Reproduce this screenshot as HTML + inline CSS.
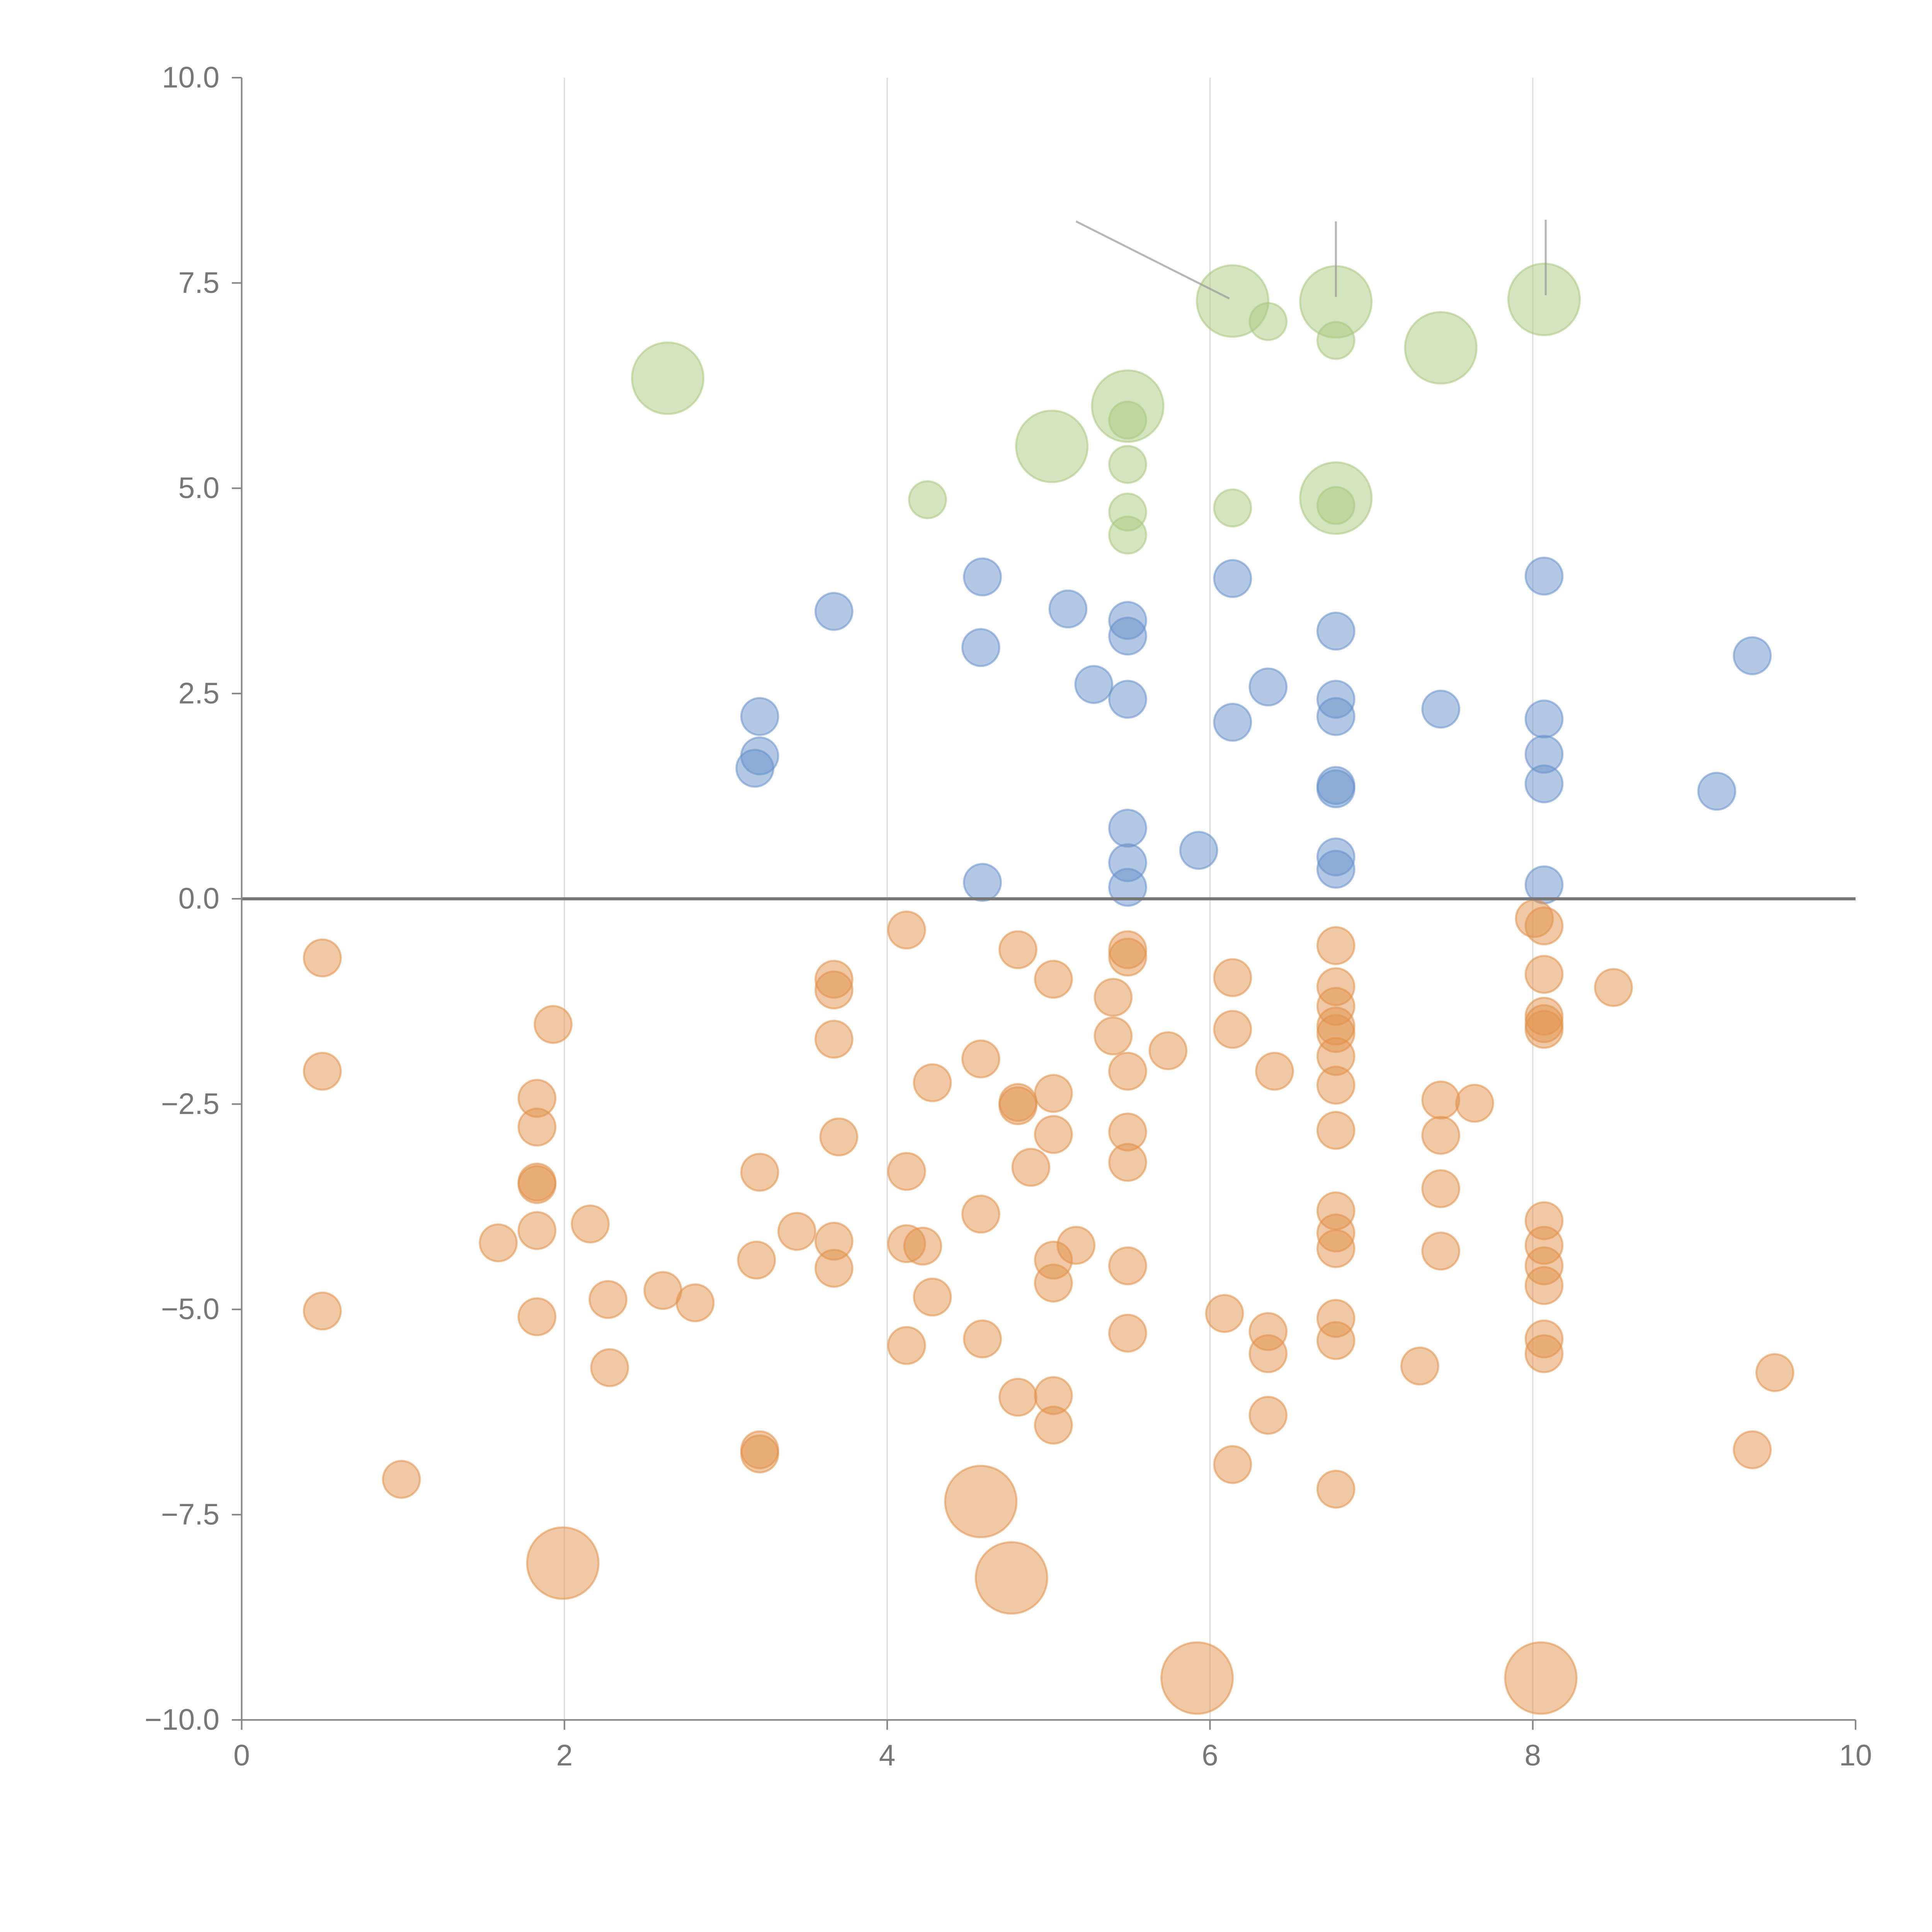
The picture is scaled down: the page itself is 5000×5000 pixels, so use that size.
<!DOCTYPE html>
<html><head><meta charset="utf-8"><style>
html,body{margin:0;padding:0;background:#fff;}
svg{display:block;}
text{font-family:"Liberation Sans",Arial,sans-serif;fill:#777;}
</style></head><body>
<svg id="chart" width="5000" height="5000" viewBox="0 0 1567 1567" xmlns="http://www.w3.org/2000/svg">
<g id="grid"></g>
<g id="marks"></g>
<g id="axes"></g>
</svg>
<script>
const xTicks=[0,2,4,6,8,10];
const yTicks=[10,7.5,5,2.5,0,-2.5,-5,-7.5,-10];
const yTickLabels=["10.0","7.5","5.0","2.5","0.0","\u22122.5","\u22125.0","\u22127.5","\u221210.0"];
const greenX=[2.64,6.14,6.36,6.78,6.78,7.43,8.07,5.49,5.49,5.02,5.49,4.25,6.14,6.78,6.78,5.49,5.49];
const greenY=[6.34,7.28,7.03,7.27,6.80,6.71,7.30,6.0,5.83,5.51,5.29,4.86,4.76,4.88,4.79,4.71,4.43];
const greenS=[2,2,1,2,1,2,2,2,1,2,1,1,1,2,1,1,1];
const blueX=[4.59,3.67,5.12,4.58,6.14,5.49,5.49,6.78,5.28,6.36,5.49,3.21,3.21,3.18,6.14,6.78,6.78,7.43,8.07,8.07,8.07,8.07,9.36,9.14,6.78,6.78,5.49,5.93,5.49,5.49,4.59,6.78,6.78,8.07];
const blueY=[3.92,3.50,3.53,3.06,3.90,3.39,3.20,3.26,2.61,2.58,2.43,2.22,1.74,1.59,2.15,2.43,2.22,2.31,3.93,2.19,1.76,1.40,2.96,1.31,1.38,1.34,0.86,0.59,0.44,0.14,0.20,0.51,0.36,0.17];
const orangeX=[0.50,0.50,0.50,0.99,1.93,1.83,1.83,1.83,1.83,1.83,1.59,1.83,2.16,2.27,2.28,2.61,2.81,1.99,3.21,3.19,3.21,3.21,3.44,3.67,3.67,3.67,3.70,3.67,3.67,4.12,4.12,4.12,4.22,4.28,4.28,4.12,4.81,4.58,4.81,4.81,4.58,4.59,4.89,5.03,5.03,5.03,5.03,5.03,5.17,4.81,5.03,5.03,4.58,4.77,5.40,5.40,5.49,5.49,5.49,5.49,5.49,5.49,5.49,5.74,5.92,6.14,6.14,6.40,6.09,6.36,6.36,6.36,6.14,6.78,6.78,6.78,6.78,6.78,6.78,6.78,6.78,6.78,6.78,6.78,6.78,6.78,6.78,7.43,7.43,7.64,7.43,7.43,7.30,8.01,8.07,8.07,8.07,8.07,8.07,8.07,8.07,8.07,8.07,8.07,8.07,8.05,8.50,9.50,9.36];
const orangeY=[-0.72,-2.10,-5.02,-7.07,-1.53,-2.43,-2.78,-3.45,-3.48,-4.04,-4.19,-5.09,-3.96,-4.88,-5.71,-4.77,-4.92,-8.09,-3.33,-4.40,-6.71,-6.76,-4.05,-0.98,-1.11,-1.71,-2.90,-4.17,-4.50,-0.38,-3.32,-4.20,-4.23,-2.24,-4.85,-5.44,-0.62,-1.95,-2.48,-2.52,-3.84,-5.36,-3.27,-2.37,-2.87,-0.98,-4.40,-4.68,-4.22,-6.07,-6.05,-6.41,-7.34,-8.27,-1.20,-1.67,-0.62,-0.71,-2.10,-2.84,-3.21,-4.47,-5.29,-1.85,-9.49,-0.96,-1.59,-2.10,-5.05,-5.27,-5.54,-6.29,-6.89,-0.57,-1.07,-1.31,-1.55,-1.64,-1.92,-2.27,-2.82,-3.80,-4.07,-4.26,-5.11,-5.38,-7.19,-2.45,-2.88,-2.49,-3.53,-4.29,-5.69,-0.24,-0.33,-0.92,-1.43,-1.52,-1.59,-3.92,-4.22,-4.47,-4.71,-5.36,-5.54,-9.49,-1.08,-5.77,-6.71];
const orangeBig=[17,52,53,64,105];
const annX1=[5.17,6.78,8.08];
const annY1=[8.25,8.25,8.27];
const annX2=[6.12,6.78,8.08];
const annY2=[7.31,7.33,7.35];

const NS="http://www.w3.org/2000/svg";
const X0=196,X1=1505,Y0=1395,Y1=63;
function sx(v){return X0+(v-0)/(10-0)*(X1-X0);}
function sy(v){return Y0-(v+10)/20*(Y0-Y1);}
function mk(tag,attrs,parent){const e=document.createElementNS(NS,tag);for(const k in attrs)e.setAttribute(k,attrs[k]);parent.appendChild(e);return e;}
const grid=document.getElementById('grid'),marks=document.getElementById('marks'),axes=document.getElementById('axes');

xTicks.forEach(t=>{if(t===0||t===10)return;
 const l=mk('line',{x1:sx(t),x2:sx(t),y1:Y1,y2:Y0,stroke:'#dcdcdc','stroke-width':1},grid);
 
 });

function bubble(x,y,r,col,name){
 const c=mk('circle',{cx:sx(x),cy:sy(y),r:r,fill:col,'fill-opacity':0.5,stroke:col,'stroke-opacity':0.55,'stroke-width':1.6},marks);
 
 }
greenX.forEach((x,i)=>bubble(x,greenY[i],greenS[i]===2?29:15,'#a9c97f','bubble-green'));
blueX.forEach((x,i)=>bubble(x,blueY[i],15,'#6891cc','bubble-blue'));
orangeX.forEach((x,i)=>bubble(x,orangeY[i],orangeBig.includes(i)?29:15,'#e2924b','bubble-orange'));

annX1.forEach((x,i)=>{const l=mk('line',{x1:sx(x),y1:sy(annY1[i]),x2:sx(annX2[i]),y2:sy(annY2[i]),stroke:'#999','stroke-opacity':0.7,'stroke-width':1.6},axes);
 
 });

const zl=mk('line',{x1:X0,x2:X1,y1:sy(0),y2:sy(0),stroke:'#777','stroke-width':2.5},axes);


const ya=mk('line',{x1:X0,x2:X0,y1:Y1,y2:Y0,stroke:'#888','stroke-width':1.3},axes);


const xa=mk('line',{x1:X0,x2:X1,y1:Y0,y2:Y0,stroke:'#888','stroke-width':1.3},axes);



yTicks.forEach((t,i)=>{
 const tk=mk('line',{x1:X0-8,x2:X0,y1:sy(t),y2:sy(t),stroke:'#888','stroke-width':1.3},axes);
 
 
 const tx=mk('text',{x:X0-18,y:sy(t)+8,'text-anchor':'end','font-size':24},axes);
 tx.textContent=yTickLabels[i];
 
 });
xTicks.forEach(t=>{
 const tk=mk('line',{x1:sx(t),x2:sx(t),y1:Y0,y2:Y0+8,stroke:'#888','stroke-width':1.3},axes);
 
 
 const tx=mk('text',{x:sx(t),y:Y0+37,'text-anchor':'middle','font-size':24},axes);
 tx.textContent=String(t);
 
 });
</script>
</body></html>
